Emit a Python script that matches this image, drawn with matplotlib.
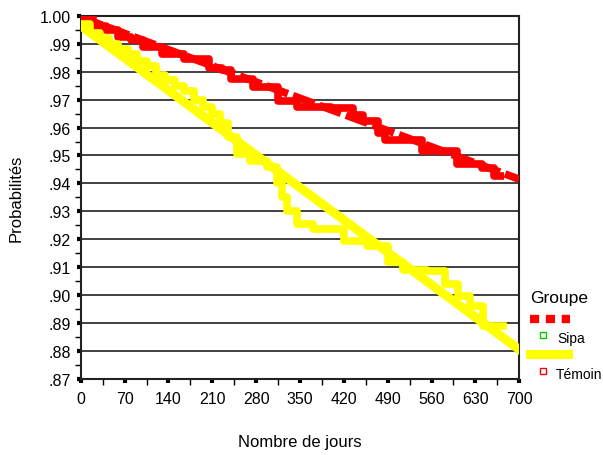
import numpy as np
import matplotlib
matplotlib.use("Agg")
import matplotlib.pyplot as plt
from matplotlib.lines import Line2D
from matplotlib.ticker import FuncFormatter, MultipleLocator

plt.rcParams['font.family'] = ['Liberation Sans', 'DejaVu Sans']

# Témoin (red) - steps
temoin_x = [0, 20, 40, 60, 80, 100, 130, 165, 205, 225, 240, 275, 315, 345,
            400, 435, 450, 475, 485, 545, 600, 640, 660, 675]
temoin_y = [.9995, .9965, .995, .9925, .9915, .989, .9865, .9845, .9815, .9805,
            .9775, .9745, .9695, .9675, .967, .9645, .9625, .958, .9555, .9515,
            .947, .9455, .9425, .9425]
temoin_fit_x = [0, 700]
temoin_fit_y = [.9995, .9415]

# Sipa (yellow)
sipa_x = [0, 15, 30, 45, 60, 75, 90, 105, 120, 135, 150, 165, 180, 195, 210,
          222, 235, 250, 270, 297, 314, 322, 330, 345, 371, 420, 457, 490, 514,
          553, 582, 603, 622, 642, 674]
sipa_y = [.997, .994, .992, .990, .988, .9865, .984, .982, .979, .977, .975,
          .973, .970, .9675, .965, .9615, .9565, .9505, .948, .946, .940, .935,
          .930, .9255, .9235, .9195, .9175, .912, .909, .9085, .904, .8995,
          .896, .889, .889]
sipa_fit_x = [0, 700]
sipa_fit_y = [.9965, .8805]

W, H = 603, 456
fig = plt.figure(figsize=(W / 100, H / 100), dpi=100)
ax = fig.add_axes([0.134, 0.167, 0.727, 0.796])

ax.step(temoin_x, temoin_y, where='post', color='#ff0000', lw=5.5,
        solid_capstyle='butt', zorder=3)
ax.plot(temoin_fit_x, temoin_fit_y, color='#ff0000', lw=5.5, dashes=(3, 0.7),
        zorder=3)
ax.step(sipa_x, sipa_y, where='post', color='#ffff00', lw=5.5, zorder=4)
ax.plot(sipa_fit_x, sipa_fit_y, color='#ffff00', lw=6.5, zorder=4)

ax.set_xlim(0, 700)
ax.set_ylim(.87, 1.00)
ax.xaxis.set_major_locator(MultipleLocator(70))
ax.xaxis.set_minor_locator(MultipleLocator(35))
ax.yaxis.set_major_locator(MultipleLocator(.01))
ax.yaxis.set_minor_locator(MultipleLocator(.005))


def fmt(v, pos):
    s = "%.2f" % v
    return s if v >= 0.995 else s[1:]


ax.yaxis.set_major_formatter(FuncFormatter(fmt))
ax.grid(axis='y', which='major', color='#333333', lw=1.3, zorder=1)
ax.tick_params(which='major', length=3, width=3, labelsize=11.5, pad=4)
ax.tick_params(which='minor', length=4, width=1)
ax.tick_params(axis='x', pad=6)
for sp in ax.spines.values():
    sp.set_linewidth(1.5)
    sp.set_color('#222222')

ax.set_xlabel("Nombre de jours", fontsize=12, labelpad=20)
ax.set_ylabel("Probabilités", fontsize=12, labelpad=12)

# legend, laid out by hand like the original
def fx(px):
    return px / W


def fy(py):
    return 1 - py / H


fig.text(fx(530), fy(298), "Groupe", fontsize=12.5, va='center', ha='left')
fig.add_artist(Line2D([fx(530), fx(570)], [fy(320), fy(320)], color='#ff0000',
                      lw=6, dashes=(1.1, 0.8), transform=fig.transFigure))
fig.add_artist(Line2D([fx(543)], [fy(336)], ls='none', marker='s', markersize=5,
                      markerfacecolor='white', markeredgecolor='#00cc00',
                      transform=fig.transFigure))
fig.text(fx(557), fy(339), "Sipa", fontsize=10, va='center', ha='left')
fig.add_artist(Line2D([fx(530), fx(568)], [fy(355), fy(355)], color='#ffff00',
                      lw=6.5, transform=fig.transFigure))
fig.add_artist(Line2D([fx(543)], [fy(372)], ls='none', marker='s', markersize=5,
                      markerfacecolor='white', markeredgecolor='#ff0000',
                      transform=fig.transFigure))
fig.text(fx(556), fy(375), "Témoin", fontsize=10, va='center', ha='left')

fig.savefig("out.png", dpi=100)
